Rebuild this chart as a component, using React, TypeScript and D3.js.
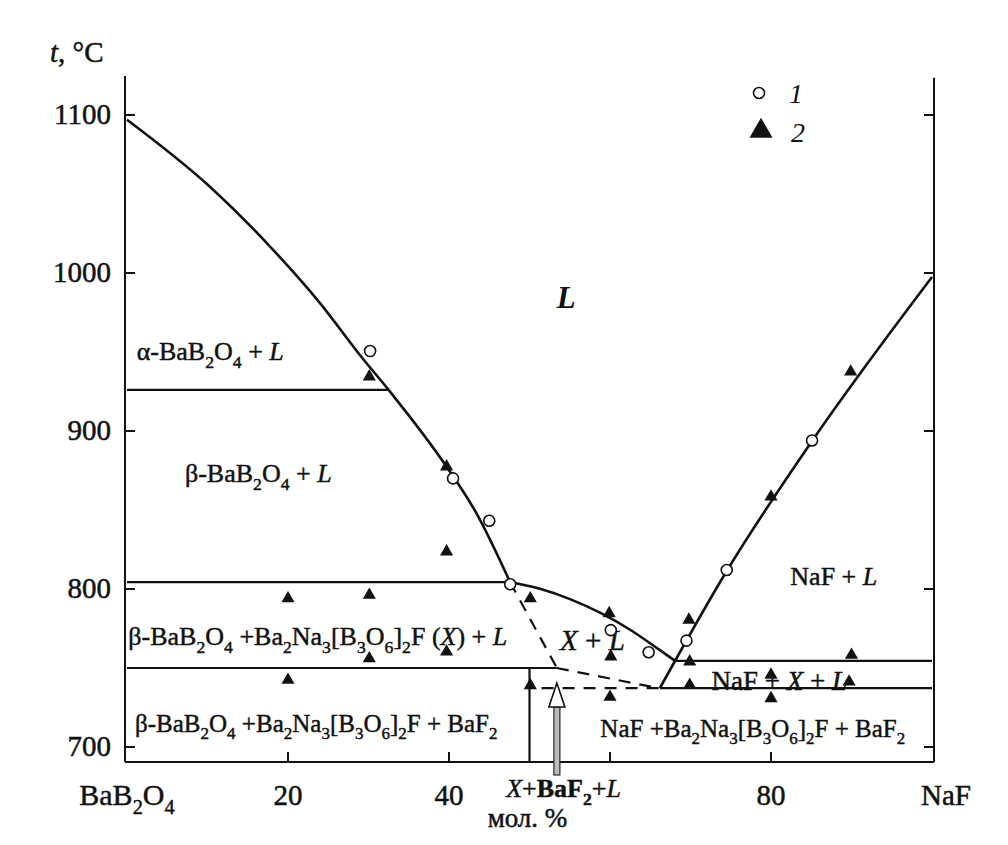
import React from 'react';
import * as d3 from 'd3';

// ---------- data (mol. % NaF, temperature °C) ----------
const yTicks = [700, 800, 900, 1000, 1100];
const yTickLabels = ['700', '800', '900', '1000', '1100'];
const xTicks = [20, 40, 60, 80];
const xTickLabels = ['20', '40', '', '80'];

const liquidusBaB2O4: [number, number][] = [
  [0, 1097], [10.3, 1054.6], [17.8, 1016.6], [24, 980.8], [29.1, 947],
  [32.5, 926], [39.7, 877.4], [43.4, 848], [47.58, 804.4],
];
const liquidusX: [number, number][] = [
  [47.58, 804.4], [51.3, 800.1], [55.03, 793.6], [58.76, 785], [62.5, 774.2],
  [66.2, 761.3], [68.1, 754.5],
];
const liquidusNaF: [number, number][] = [
  [66.2, 737.3], [74.5, 811.4], [85.1, 893.7], [100, 997.5],
];
const solidLines: [number, number][][] = [
  [[0, 926], [32.5, 926]],
  [[0, 804.4], [47.58, 804.4]],
  [[0, 750], [53.4, 750]],
  [[68.1, 754.5], [100, 754.5]],
  [[66.2, 737.3], [100, 737.3]],
  [[50, 750], [50, 690.5]],
];
const dashedLines: [number, number][][] = [
  [[47.58, 804.4], [53.4, 750]],
  [[53.4, 750], [65.8, 737.5]],
  [[51.5, 737.3], [66.2, 737.3]],
];

const circleX = [30.2, 40.5, 45, 47.6, 60.1, 64.8, 69.5, 74.5, 85.1];
const circleT = [950.6, 870, 843.2, 803, 774, 760, 767.3, 812, 894];

const triX = [20, 20, 30.1, 30.1, 30.1, 39.7, 39.7, 39.7, 50.1, 50.1, 59.9, 60.1, 60, 69.8, 69.9, 69.9, 80, 80, 80, 89.9, 89.7, 90];
const triT = [794, 742.4, 934.4, 796.2, 756, 877.4, 823.6, 760.3, 794, 739, 784.6, 757.2, 731.6, 780.4, 754, 739.2, 858.4, 745.6, 730.8, 937.5, 741.3, 758.2];

const arrowX = 53.4;
const arrowTip = 740.5;
const arrowBase = 725.3;
const arrowEnd = 682.3;

// ---------- helpers ----------
const FONT = '"Liberation Serif", "Times New Roman", serif';
const INK = '#111';

type Seg = { t: string; sub: boolean; italic: boolean; bold: boolean };
function parse(s: string): Seg[] {
  const out: Seg[] = [];
  let italic = false, bold = false, buf = '';
  const flush = () => { if (buf) { out.push({ t: buf, sub: false, italic, bold }); buf = ''; } };
  for (let i = 0; i < s.length; i++) {
    const c = s[i];
    if (c === '_') { flush(); out.push({ t: s[i + 1], sub: true, italic, bold }); i++; continue; }
    if (c === '*') { flush(); italic = !italic; continue; }
    if (c === '#') { flush(); bold = !bold; continue; }
    buf += c;
  }
  flush();
  return out;
}

function Rich({ x, y, text, size, anchor = 'start', subScale = 0.68, shift = 0.3 }:
  { x: number; y: number; text: string; size: number; anchor?: string; subScale?: number; shift?: number }) {
  const segs = parse(text);
  let cur = 0;
  return (
    <text x={x} y={y} fontFamily={FONT} fontSize={size} textAnchor={anchor}
      style={{ whiteSpace: 'pre' }} fill={INK} stroke={INK} strokeWidth={0.45}>
      {segs.map((s, i) => {
        const target = s.sub ? size * shift : 0;
        const dy = target - cur;
        cur = target;
        return (
          <tspan key={i} dy={dy} fontSize={s.sub ? size * subScale : size}
            fontStyle={s.italic ? 'italic' : 'normal'} fontWeight={s.bold ? 'bold' : 'normal'}>{s.t}</tspan>
        );
      })}
    </text>
  );
}

export default function App() {
  const W = 1008, H = 845;
  const x = d3.scaleLinear().domain([0, 100]).range([127, 932]);
  const y = d3.scaleLinear().domain([700, 1100]).range([747, 115]);
  const xL = x(-0.25), xR = x(100.25);
  const yBot = y(690.5), yTopL = y(1124.7), yTopR = y(1123.5);

  const line = d3.line<[number, number]>().x(d => x(d[0])).y(d => y(d[1]));
  const curve = d3.line<[number, number]>().x(d => x(d[0])).y(d => y(d[1])).curve(d3.curveMonotoneX);
  const tri = d3.symbol().type(d3.symbolTriangle).size(75)()!;
  const triBig = d3.symbol().type(d3.symbolTriangle).size(230)()!;

  const ax = x(arrowX);
  const tipY = y(arrowTip), baseY = y(arrowBase), endY = y(arrowEnd);

  return (
    <svg width={W} height={H} style={{ position: 'absolute', left: 0, top: 0, background: '#fff' }}>
      <rect width={W} height={H} fill="#fff" />
      {/* frame */}
      <g stroke={INK} strokeWidth={2} fill="none">
        <line x1={xL} x2={xL} y1={yTopL} y2={yBot} />
        <line x1={xR} x2={xR} y1={yTopR} y2={yBot} />
        <line x1={xL} x2={xR} y1={yBot} y2={yBot} />
        {yTicks.map(t => (
          <g key={t}>
            <line x1={xL} x2={xL + 10} y1={y(t)} y2={y(t)} />
            <line x1={xR} x2={xR - 10} y1={y(t)} y2={y(t)} />
          </g>
        ))}
        {xTicks.map(t => <line key={t} x1={x(t)} x2={x(t)} y1={yBot} y2={yBot - 10} />)}
      </g>
      {/* tick labels */}
      <g fontFamily={FONT} fontSize={29} fill={INK} stroke={INK} strokeWidth={0.5}>
        {yTicks.map((t, i) => <text key={t} x={xL - 14} y={y(t) + 9} textAnchor="end">{yTickLabels[i]}</text>)}
        {xTicks.map((t, i) => <text key={t} x={x(t)} y={805} textAnchor="middle">{xTickLabels[i]}</text>)}
        <text x={xR - 13} y={805}>NaF</text>
        <text x={50} y={62}><tspan fontStyle="italic">t</tspan>, °C</text>
        <text x={x(44.8)} y={827} fontSize={27}>мол. %</text>
      </g>
      <Rich x={x(0)} y={805} text="BaB_2O_4" size={30} anchor="middle" />

      {/* phase boundaries */}
      <g fill="none" stroke={INK}>
        <path d={curve(liquidusBaB2O4)!} strokeWidth={2.6} />
        <path d={curve(liquidusX)!} strokeWidth={2.6} />
        <path d={curve(liquidusNaF)!} strokeWidth={2.6} />
        {solidLines.map((l, i) => <path key={i} d={line(l)!} strokeWidth={2.2} />)}
        {dashedLines.map((l, i) => <path key={i} d={line(l)!} strokeWidth={2.2} strokeDasharray="12 9" />)}
      </g>

      {/* region labels */}
      <text x={x(53.4)} y={y(977.7)} fontFamily={FONT} fontSize={31} fontStyle="italic" fontWeight="bold" fill={INK}>L</text>
      <Rich x={x(1.2)} y={y(945)} text="α-BaB_2O_4 + *L*" size={26} />
      <Rich x={x(7.2)} y={y(867.9)} text="β-BaB_2O_4 + *L*" size={26} />
      <Rich x={x(0.16)} y={y(764.6)} text="β-BaB_2O_4 +Ba_2Na_3[B_3O_6]_2F (*X*) + *L*" size={26} />
      <Rich x={x(1.0)} y={y(709.7)} text="β-BaB_2O_4 +Ba_2Na_3[B_3O_6]_2F + BaF_2" size={25} />
      <Rich x={x(53.8)} y={y(761.4)} text="*X* + *L*" size={29} />
      <Rich x={x(72.6)} y={y(736.2)} text="NaF + *X* + *L*" size={27} />
      <Rich x={x(82.4)} y={y(802.5)} text="NaF + *L*" size={26} />
      <Rich x={x(58.8)} y={y(706.5)} text="NaF +Ba_2Na_3[B_3O_6]_2F + BaF_2" size={25} />
      <Rich x={x(47.1)} y={797} text="*X*+#BaF_2#+*L*" size={26} />

      {/* arrow */}
      <rect x={ax - 3} y={baseY} width={6} height={endY - baseY} fill="#bbb" stroke="#333" strokeWidth={1.3} />
      <path d={`M${ax},${tipY} L${ax + 8},${baseY} L${ax - 8},${baseY} Z`} fill="#fff" stroke={INK} strokeWidth={1.6} />

      {/* data points */}
      {triX.map((v, i) => (
        <path key={'t' + i} d={tri} transform={`translate(${x(v)},${y(triT[i])})`} fill={INK} />
      ))}
      {circleX.map((v, i) => (
        <circle key={'c' + i} cx={x(v)} cy={y(circleT[i])} r={5.5} fill="#fff" stroke={INK} strokeWidth={1.6} />
      ))}

      {/* legend */}
      <circle cx={759} cy={93} r={5.5} fill="#fff" stroke={INK} strokeWidth={1.6} />
      <text x={789} y={103} fontFamily={FONT} fontSize={28} fontStyle="italic" fill={INK}>1</text>
      <path d={triBig} transform="translate(761,131)" fill={INK} />
      <text x={791} y={142} fontFamily={FONT} fontSize={28} fontStyle="italic" fill={INK}>2</text>
    </svg>
  );
}
